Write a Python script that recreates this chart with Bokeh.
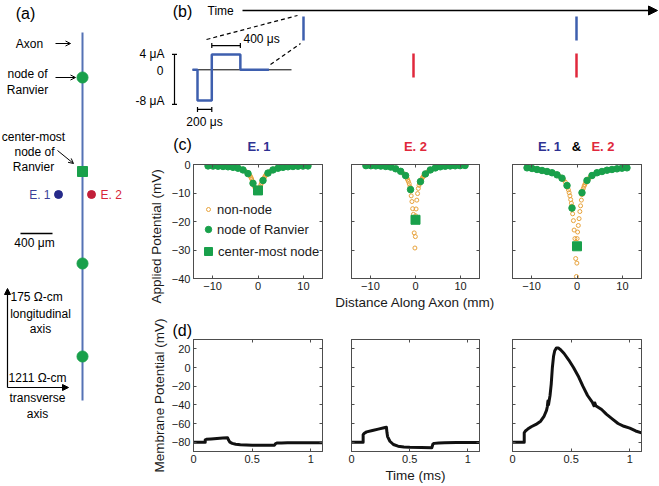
from bokeh.plotting import figure
from bokeh.layouts import row, column
from bokeh.models import (Range1d, Label, Arrow, NormalHead, OpenHead, LinearAxis, Title,
                          FixedTicker, CustomJSTickFormatter, Legend, LegendItem)
from bokeh.embed import file_html
from bokeh.resources import INLINE

FONT = "Liberation Sans"
AXC = "#4d4d4d"
TXT = "#1a1a1a"
GREEN = "#19a04b"
ORANGE = "#e8a33c"
BLUE = "#3e5fae"
AXON = "#5572b5"
RED = "#e0283c"
NAVY = "#262a8a"
NAVY_T = "#2e3192"
CRIMSON = "#c21f3a"

# ---------------- data: panel (c) applied potential ----------------
node_x = [-11.0, -9.9, -8.8, -7.7, -6.6, -5.5, -4.4, -3.3, -2.2, -1.1,
          1.1, 2.2, 3.3, 4.4, 5.5, 6.6, 7.7, 8.8, 9.9, 11.0]
center_x = [0.0]
nonnode_x = [-10.63, -10.27, -9.53, -9.17, -8.43, -8.07, -7.33, -6.97, -6.23, -5.87,
             -5.13, -4.77, -4.03, -3.67, -2.93, -2.57,
             -2.17, -2.06, -1.89, -1.73, -1.56, -1.39, -1.23, -1.13,
             -1.07, -0.96, -0.79, -0.63, -0.46, -0.29, -0.13, -0.03,
             0.03, 0.13, 0.29, 0.46, 0.63, 0.79, 0.96, 1.07,
             1.13, 1.23, 1.39, 1.56, 1.73, 1.89, 2.06, 2.17,
             2.57, 2.93, 3.67, 4.03, 4.77, 5.13, 5.87, 6.23, 6.97, 7.33,
             8.07, 8.43, 9.17, 9.53, 10.27, 10.63]

e1_node = [-0.5, -0.55, -0.6, -0.7, -0.8, -1.0, -1.3, -1.9, -3.2, -6.6,
           -5.6, -3.0, -1.9, -1.3, -1.0, -0.8, -0.7, -0.6, -0.55, -0.5]
e1_center = [-9.1]
e1_nonnode = [-0.50, -0.52, -0.57, -0.58, -0.63, -0.66, -0.73, -0.76, -0.85, -0.92,
              -1.08, -1.18, -1.45, -1.65, -2.2, -2.6,
              -3.25, -3.4, -3.7, -4.0, -4.5, -5.1, -5.8, -6.3,
              -6.7, -7.1, -7.7, -8.3, -8.8, -9.2, -9.5, -9.4,
              -9.3, -9.2, -8.6, -7.9, -7.1, -6.5, -6.0, -5.7,
              -5.4, -5.1, -4.6, -4.1, -3.7, -3.4, -3.15, -3.05,
              -2.5, -2.15, -1.65, -1.45, -1.18, -1.08, -0.92, -0.85, -0.76, -0.73,
              -0.66, -0.63, -0.58, -0.57, -0.52, -0.5]

e2_node = [-0.4, -0.42, -0.48, -0.55, -0.68, -0.9, -1.5, -2.4, -3.9, -8.8,
           -6.0, -3.3, -1.9, -1.2, -0.8, -0.6, -0.5, -0.45, -0.4, -0.35]
e2_center = [-19.4]
e2_nonnode = [-0.40, -0.41, -0.44, -0.46, -0.50, -0.53, -0.59, -0.63, -0.74, -0.82,
              -1.05, -1.25, -1.75, -2.05, -2.85, -3.35,
              -4.0, -4.3, -4.8, -5.4, -6.0, -6.8, -7.8, -8.5,
              -9.3, -11.0, -13.0, -15.5, -17.5, -24.0, -29.3, -25.3,
              -18.0, -15.6, -12.5, -10.2, -8.4, -7.3, -6.6, -6.2,
              -5.9, -5.6, -5.1, -4.6, -4.2, -3.8, -3.5, -3.35,
              -2.8, -2.3, -1.7, -1.45, -1.05, -0.92, -0.73, -0.66, -0.57, -0.53,
              -0.48, -0.46, -0.43, -0.41, -0.38, -0.36]

e12_node = [-1.17, -1.4, -1.75, -2.1, -2.46, -2.9, -3.63, -4.8, -7.37, -15.3,
            -9.9, -5.6, -3.86, -2.9, -2.46, -2.0, -1.75, -1.52, -1.29, -1.17]
e12_center = [-28.7]
e12_nonnode = [-1.25, -1.32, -1.5, -1.62, -1.85, -1.97, -2.2, -2.33, -2.6, -2.75,
               -3.1, -3.35, -3.95, -4.35, -5.4, -6.2,
               -7.5, -8.0, -8.9, -9.9, -11.0, -12.3, -13.6, -14.6,
               -15.8, -17.3, -19.7, -23.0, -26.0, -33.0, -39.3, -34.6,
               -26.0, -23.7, -21.4, -19.0, -16.5, -14.5, -12.5, -10.6,
               -9.7, -9.2, -8.4, -7.6, -7.0, -6.4, -5.9, -5.7,
               -5.0, -4.4, -3.55, -3.2, -2.75, -2.6, -2.3, -2.15, -1.9, -1.82,
               -1.68, -1.6, -1.45, -1.37, -1.25, -1.2]

# ---------------- data: panel (d) membrane potential ----------------
d1_t = [0, 0.1, 0.1, 0.11, 0.15, 0.2, 0.25, 0.29, 0.3, 0.31, 0.33, 0.36, 0.4,
        0.45, 0.5, 0.6, 0.69, 0.7, 0.71, 0.75, 0.8, 0.9, 1.0, 1.1]
d1_v = [-80, -80, -77.5, -77, -76.5, -76, -75.5, -75.2, -78, -80, -81.3, -82.2, -82.7,
        -83, -83.2, -83.3, -83.3, -81.5, -81, -80.8, -80.7, -80.6, -80.6, -80.6]
d2_t = [0, 0.1, 0.1, 0.11, 0.13, 0.18, 0.23, 0.28, 0.3, 0.305, 0.31, 0.33, 0.36, 0.4,
        0.45, 0.5, 0.6, 0.69, 0.7, 0.71, 0.75, 0.8, 0.9, 1.0, 1.1]
d2_v = [-80, -80, -72, -70.5, -69, -67.5, -66, -64.5, -64, -70, -74, -79, -82.5, -84.3,
        -85.2, -85.5, -85.8, -86, -82, -81.3, -80.8, -80.6, -80.4, -80.4, -80.4]
d3_t = [0, 0.1, 0.1, 0.11, 0.13, 0.16, 0.2, 0.24, 0.27, 0.29, 0.297, 0.302, 0.307, 0.32,
        0.33, 0.34, 0.35, 0.36, 0.375, 0.39, 0.41, 0.44, 0.48, 0.52, 0.56, 0.6, 0.64,
        0.68, 0.695, 0.702, 0.71, 0.76, 0.8, 0.85, 0.9, 0.95, 1.0, 1.05, 1.1]
d3_v = [-80, -80, -70, -68, -66, -63.5, -61, -57.5, -52, -46, -42, -36, -40, -30,
        -18, 0, 12, 18, 21, 21, 19, 15, 8, 0, -9, -20, -30,
        -37, -41, -38, -41, -45, -50, -55, -60, -63, -65, -68, -70]

# ---------------- panel (b) stimulus waveform ----------------
stim_t_us = [-70, 0, 0, 200, 200, 600, 600, 1000]
stim_uA = [0, 0, -8, -8, 4, 4, 0, 0]
stim_axis_t = [-70, 1316]
e1_pulse_x = [303, 576]
e2_pulse_x = [413, 576]

c_xticks = [-10, 0, 10]
c_yticks = [-40, -30, -20, -10, 0]
d_xticks = [0, 0.5, 1]
d_yticks = [-80, -60, -40, -20, 0, 20]


def lab(p, x, y, s, size="12px", align="center", color="black", bold=False):
    p.add_layout(Label(x=x, y=y, text=s, text_align=align, text_baseline="middle",
                       text_font=FONT, text_font_size=size, text_color=color,
                       text_font_style="bold" if bold else "normal"))


def canvas(w, h, x0, y0):
    p = figure(width=w, height=h, x_range=Range1d(x0, x0 + w), y_range=Range1d(y0 + h, y0),
               x_axis_type=None, y_axis_type=None, min_border=0, outline_line_color=None,
               toolbar_location=None, output_backend="svg")
    p.background_fill_color = None
    p.border_fill_color = None
    return p


def minus(v):
    return ("%g" % v).replace("-", "\u2212")


def add_axes(p, xt, yt, show_x, show_y, xlabel=None, ylabel=None):
    blank = CustomJSTickFormatter(code="return ''")
    for place, ticks, show, lbl in (("below", xt, show_x, xlabel), ("left", yt, show_y, ylabel),
                                    ("above", xt, False, None), ("right", yt, False, None)):
        ax = LinearAxis(ticker=FixedTicker(ticks=ticks))
        ax.major_tick_in = 3
        ax.major_tick_out = 0
        ax.minor_tick_line_color = None
        ax.axis_line_color = AXC
        ax.major_tick_line_color = AXC
        ax.major_label_text_font = FONT
        ax.major_label_text_color = TXT
        if show:
            ax.major_label_overrides = {t: minus(t) for t in ticks}
            ax.major_label_text_font_size = "11px"
            ax.major_label_standoff = 3
        else:
            ax.formatter = blank
            ax.major_label_text_font_size = "1px"
            ax.major_label_standoff = 0
        if lbl:
            ax.axis_label = lbl
            ax.axis_label_text_font = FONT
            ax.axis_label_text_font_size = "13.5px"
            ax.axis_label_text_font_style = "normal"
            ax.axis_label_text_color = TXT
            ax.axis_label_standoff = 2
        p.add_layout(ax, place)


def panel_c(node_y, center_y, non_y, fw, ml, mr, show_y, xlabel=None):
    p = figure(frame_width=fw, frame_height=114, x_range=Range1d(-14.2, 14.2),
               y_range=Range1d(-40, 0), x_axis_type=None, y_axis_type=None,
               min_border_left=ml, min_border_right=mr, min_border_top=9, min_border_bottom=36,
               toolbar_location=None, output_backend="svg")
    p.outline_line_color = AXC
    p.border_fill_color = None
    add_axes(p, c_xticks, c_yticks, True, show_y, xlabel)
    r0 = p.scatter(nonnode_x, non_y, marker="circle", size=4, fill_color=None,
                   line_color=ORANGE, line_width=1)
    r1 = p.scatter(node_x, node_y, marker="circle", size=6.5, fill_color=GREEN,
                   line_color=GREEN)
    r2 = p.scatter(center_x, center_y, marker="square", size=9, fill_color=GREEN,
                   line_color=GREEN)
    return p, (r0, r1, r2)


def panel_d(t, v, fw, ml, mr, show_y, xlabel=None, ylabel=None):
    p = figure(frame_width=fw, frame_height=112, x_range=Range1d(0, 1.1),
               y_range=Range1d(-90, 30), x_axis_type=None, y_axis_type=None,
               min_border_left=ml, min_border_right=mr, min_border_top=25, min_border_bottom=33,
               toolbar_location=None, output_backend="svg")
    p.outline_line_color = AXC
    p.border_fill_color = None
    add_axes(p, d_xticks, d_yticks, True, show_y, xlabel, ylabel)
    p.line(t, v, line_color="#111111", line_width=3, line_join="round")
    return p


# ---------------- panel (a) ----------------
pa = canvas(130, 486, 0, 0)
pa.segment(x0=[82], y0=[32], x1=[82], y1=[400], line_color=AXON, line_width=2)
pa.scatter([82, 82, 82], [77, 263, 356], marker="circle", size=11, color=GREEN)
pa.scatter([82], [171], marker="square", size=10, color=GREEN)
pa.scatter([58], [194], marker="circle", size=8, color=NAVY)
pa.scatter([91], [194], marker="circle", size=8, color=CRIMSON)
pa.segment(x0=[20], y0=[233], x1=[52], y1=[233], line_color="black", line_width=1.5)
lab(pa, 25, 13, "(a)", size="16px")
lab(pa, 29, 43, "Axon")
lab(pa, 27, 73, "node of")
lab(pa, 27, 89, "Ranvier")
lab(pa, 33, 136, "center-most")
lab(pa, 34, 151, "node of")
lab(pa, 33, 166, "Ranvier")
lab(pa, 50, 194, "E. 1", align="right", color="#3b3f98")
lab(pa, 100, 194, "E. 2", align="left", color="#d72638")
lab(pa, 34, 242, "400 \u03bcm")
lab(pa, 10, 296, "175 \u03a9-cm", align="left")
lab(pa, 40, 313, "longitudinal")
lab(pa, 40, 328, "axis")
lab(pa, 8, 377, "1211 \u03a9-cm", align="left")
lab(pa, 37, 397, "transverse")
lab(pa, 37, 413, "axis")
for (xs, ys, xe, ye) in ((55, 43, 70, 43), (55, 77, 75, 77), (57, 150, 73, 163)):
    pa.add_layout(Arrow(end=OpenHead(size=5, line_width=1, line_color="black"),
                        x_start=xs, y_start=ys, x_end=xe, y_end=ye, line_width=1,
                        line_color="black"))
for (xs, ys, xe, ye) in ((7, 387, 7, 288), (7, 387, 68, 387)):
    pa.add_layout(Arrow(end=NormalHead(size=6, line_color="black", fill_color="black"),
                        x_start=xs, y_start=ys, x_end=xe, y_end=ye, line_width=1.2,
                        line_color="black"))

# ---------------- panel (b) (+ titles of panel c) ----------------
pb = canvas(529, 155, 130, 0)
pb.extra_x_ranges = {"us": Range1d(-938, 6468)}
pb.extra_y_ranges = {"ua": Range1d(-22.26, 18.0)}
lab(pb, 182, 11, "(b)", size="16px")
lab(pb, 207, 10, "Time", align="left")
pb.add_layout(Arrow(end=NormalHead(size=9, line_color="black", fill_color="black"),
                    x_start=242, y_start=10, x_end=657, y_end=10, line_width=1.5,
                    line_color="black"))
pb.segment(x0=e1_pulse_x, y0=[16] * 2, x1=e1_pulse_x, y1=[40] * 2, line_color=BLUE, line_width=2.5)
pb.segment(x0=e2_pulse_x, y0=[53] * 2, x1=e2_pulse_x, y1=[77] * 2, line_color=RED, line_width=2.5)
pb.segment(x0=[206, 270], y0=[39, 64], x1=[297, 300], y1=[15, 43], line_color="black",
           line_width=1.2, line_dash="4 3")
pb.line(stim_axis_t, [0, 0], x_range_name="us", y_range_name="ua", line_color="black",
        line_width=1)
pb.line(stim_t_us, stim_uA, x_range_name="us", y_range_name="ua", line_color=BLUE,
        line_width=2.5)
pb.segment(x0=[-322, -357, -357, 200, 200, 600, 0, 0, 200],
           y0=[4, 4, -9, 6.3, 5.65, 5.65, -10.3, -10.95, -10.95],
           x1=[-322, -287, -287, 600, 200, 600, 200, 0, 200],
           y1=[-9, 4, -9, 6.3, 6.95, 6.95, -10.3, -9.65, -9.65],
           x_range_name="us", y_range_name="ua", line_color="black", line_width=1.2)
lab(pb, 164, 53, "4 \u03bcA", align="right")
lab(pb, 163, 70, "0", align="right")
lab(pb, 164, 100, "-8 \u03bcA", align="right")
lab(pb, 243, 38, "400 \u03bcs", align="left")
lab(pb, 204, 121, "200 \u03bcs")
lab(pb, 182, 144, "(c)", size="16px")
lab(pb, 258.5, 146, "E. 1", size="13px", bold=True, color=NAVY_T)
lab(pb, 415, 146, "E. 2", size="13px", bold=True, color=RED)
lab(pb, 549, 146, "E. 1", size="13px", bold=True, color=NAVY_T)
lab(pb, 576, 146, "&", size="13px", bold=True, color="black")
lab(pb, 602.5, 146, "E. 2", size="13px", bold=True, color=RED)

# ---------------- panel (c) ----------------
c1, rc = panel_c(e1_node, e1_center, e1_nonnode, 129, 63, 5, True)
c2, _ = panel_c(e2_node, e2_center, e2_nonnode, 128, 24, 24, False,
                xlabel="Distance Along Axon (mm)")
c3, _ = panel_c(e12_node, e12_center, e12_nonnode, 129, 9, 18, False)
c1.add_layout(Title(text="Applied Potential (mV)", align="left", offset=-25,
                    text_font=FONT, text_font_size="13.5px", text_font_style="normal",
                    text_color=TXT, standoff=10), "left")
for r, txt, gw, left, stand, cy in ((rc[0], "non-node", 10, 10, 4, 69),
                                    (rc[1], "node of Ranvier", 16, 7, 1, 49),
                                    (rc[2], "center-most node", 20, 5, -1, 27)):
    lg = Legend(items=[LegendItem(label=txt, renderers=[r])], location=(left, cy - 10),
                padding=0, margin=0, spacing=0, border_line_color=None,
                background_fill_alpha=0, glyph_width=gw, glyph_height=20, label_height=20,
                label_standoff=stand, label_text_font=FONT, label_text_font_size="13px",
                label_text_color=TXT)
    c1.add_layout(lg)

# ---------------- panel (d) ----------------
d1 = panel_d(d1_t, d1_v, 129, 63, 5, True, ylabel="Membrane Potential (mV)")
d2 = panel_d(d2_t, d2_v, 128, 24, 24, False, xlabel="Time (ms)")
d3 = panel_d(d3_t, d3_v, 129, 9, 18, False)
d1.add_layout(Title(text="(d)", align="left", offset=-21, text_font=FONT,
                    text_font_size="16px", text_font_style="normal", text_color="black",
                    standoff=2), "above")

layout = row(pa, column(pb, row(c1, c2, c3), row(d1, d2, d3)))
open("out.html", "w").write(file_html(layout, INLINE))
